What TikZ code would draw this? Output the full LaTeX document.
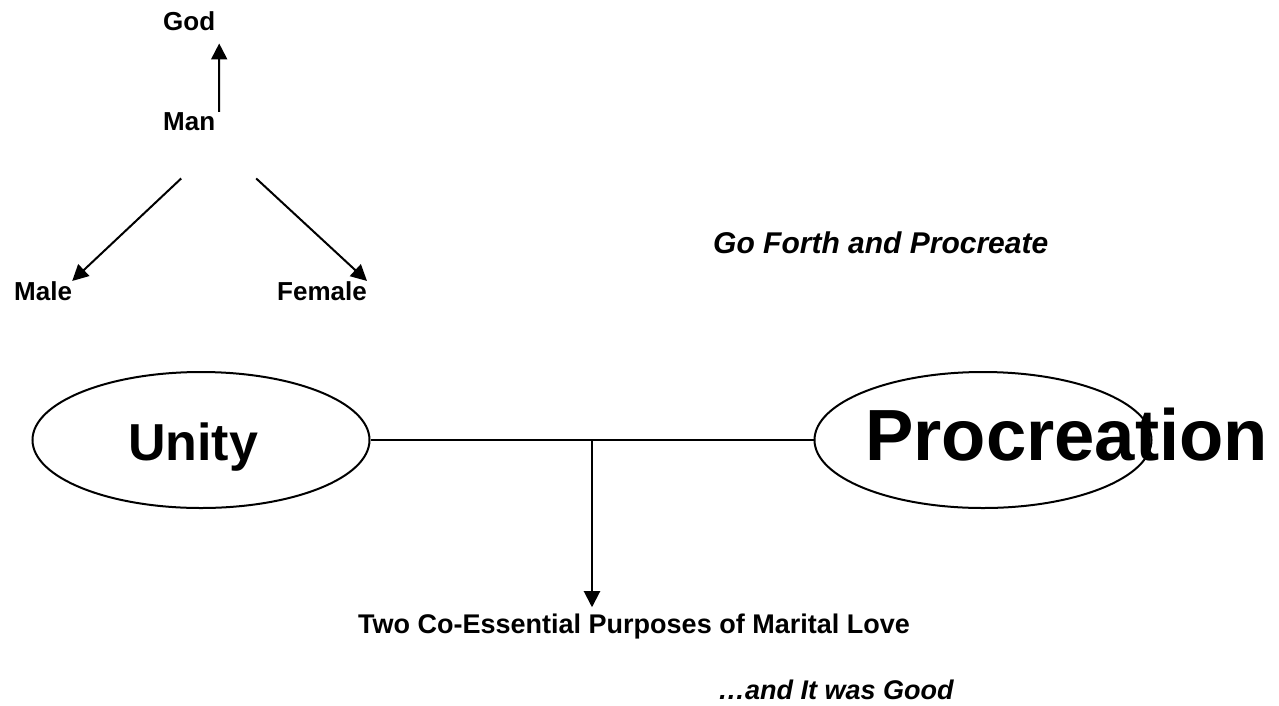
\documentclass[tikz,border=0pt]{standalone}
\usepackage{fontspec}
\setmainfont{Liberation Sans}
\usepackage{tikz}
\usetikzlibrary{shapes,arrows.meta,positioning}

\begin{document}
\begin{tikzpicture}[x=1pt, y=-1pt]
    \tikzset{
        t/.style        =   { inner sep=0pt
                            , anchor=base west
                            , font=\fontsize{26}{30}\selectfont\bfseries
        }
        , it/.style     =   { t
                            , font=\fontsize{27}{32}\selectfont\bfseries\itshape
        }
        , e/.style      =   { ellipse
                            , draw=black
                            , line width=2pt
                            , minimum width=337pt
                            , minimum height=136pt
                            , inner sep=0pt
        }
        , arrow/.style  =   { line width=2pt
                            , -{Triangle[width=16pt,length=16pt]}
        }
        , line/.style   =   { line width=2pt
        }
    }
    \useasboundingbox (0,0) rectangle (1279,705);

    \node(0)[t] at (163,30)   {God};
    \node(1)[t] at (163,130)  {Man};
    \node(2)[t] at (14,300)   {Male};
    \node(3)[t] at (277,300)  {Female};
    \node(4)[it, font=\fontsize{30}{34}\selectfont\bfseries\itshape] at (713,253) {Go Forth and Procreate};
    \node(5)[e] at (201,440)  {};
    \node(6)[e] at (983,440)  {};
    \node(7)[t, font=\fontsize{52}{60}\selectfont\bfseries] at (128,460) {Unity};
    \node(8)[t, font=\fontsize{72.5}{82}\selectfont\bfseries] at (865,460) {Procreation};
    \node(9)[t, font=\fontsize{27}{31}\selectfont\bfseries] at (358,633) {Two Co-Essential Purposes of Marital Love};
    \node(10)[it] at (718,699) {\ldots and It was Good};

    \draw[arrow] ([shift={(30,0)}]1.north) -- ([shift={(30,13)}]0.south);
    \draw[arrow] ([shift={(-8,48)}]1.south) -- (2.north east);
    \draw[arrow] ([shift={(67,48)}]1.south) -- (3.north east);
    \draw[line]  (5) -- coordinate[midway] (j) (6);
    \draw[arrow] (j) -- ([shift={(0,-6)}]j |- 9.north);
\end{tikzpicture}
\end{document}
